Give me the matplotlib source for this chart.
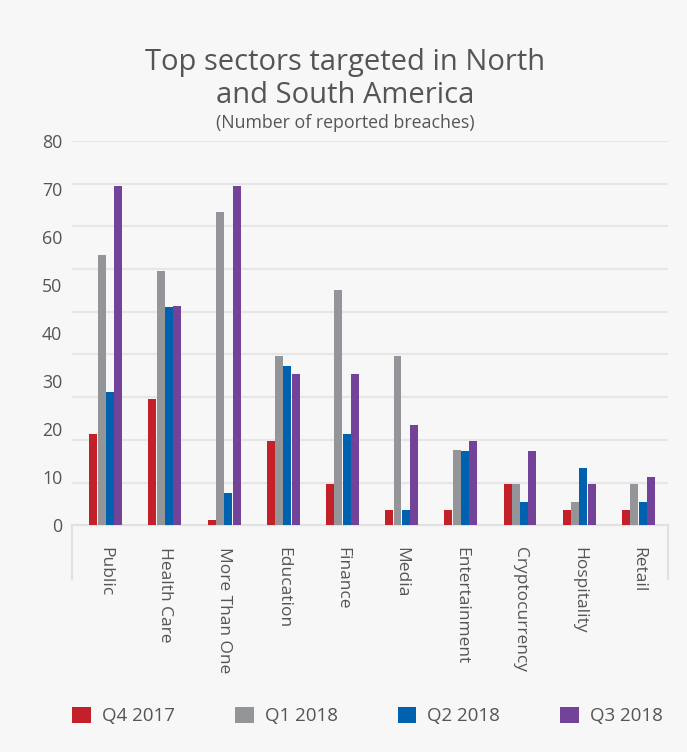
import numpy as np
import matplotlib
matplotlib.use("Agg")
import matplotlib.pyplot as plt
from matplotlib.patches import Patch

plt.rcParams['font.family'] = ['Open Sans', 'DejaVu Sans']

sectors = ['Public', 'Health Care', 'More Than One', 'Education', 'Finance',
           'Media', 'Entertainment', 'Cryptocurrency', 'Hospitality', 'Retail']
quarters = ['Q4 2017', 'Q1 2018', 'Q2 2018', 'Q3 2018']
q4_2017 = [19.0, 26.3, 1.2, 17.6, 8.6, 3.2, 3.2, 8.6, 3.2, 3.2]
q1_2018 = [56.3, 53.0, 65.3, 35.3, 49.0, 35.3, 15.7, 8.6, 4.9, 8.6]
q2_2018 = [27.8, 45.5, 6.7, 33.2, 19.0, 3.2, 15.5, 4.9, 12.0, 4.9]
q3_2018 = [70.7, 45.7, 70.7, 31.5, 31.5, 20.9, 17.5, 15.5, 8.6, 10.1]
colors = ['#c4202a', '#939598', '#0061ae', '#724399']

bg = '#f7f7f7'
grid_col = '#e6e6e6'
text_col = '#555555'

fig = plt.figure(figsize=(6.87, 7.52), dpi=100, facecolor=bg)
ax = fig.add_axes([0.1048, 0.3015, 0.8675, 0.511])
ax.set_facecolor(bg)

x = np.arange(len(sectors))
step = 0.14
w = 0.135
for i, (vals, c) in enumerate(zip([q4_2017, q1_2018, q2_2018, q3_2018], colors)):
    ax.bar(x + (i - 1.5) * step, vals, width=w, color=c, zorder=3)

ax.set_xlim(-0.57, 9.5)
ax.set_ylim(0, 80)

# background rules are spaced independently of the value labels
for g in np.arange(1, 10) * 80 / 9:
    ax.axhline(g, color=grid_col, lw=1.6, zorder=1)

ax.set_yticks(np.arange(0, 81, 10))
ax.set_yticklabels([str(v) for v in range(0, 81, 10)], fontsize=12.8, color=text_col)
ax.set_xticks(x)
ax.set_xticklabels(sectors, rotation=-90, fontsize=12.5, color=text_col,
                   va='top', ha='center')
ax.tick_params(axis='both', length=0)
ax.tick_params(axis='x', pad=16)
ax.tick_params(axis='y', pad=7)
for s in ax.spines.values():
    s.set_visible(False)

# open box under the category axis
ax.plot([0, 1], [0, 0], transform=ax.transAxes, color='#e2e2e2', lw=1.6,
        clip_on=False, zorder=2)
ax.plot([0, 0], [0, -0.14], transform=ax.transAxes, color='#e2e2e2', lw=1.6,
        clip_on=False)
ax.plot([1, 1], [0, -0.14], transform=ax.transAxes, color='#e2e2e2', lw=1.6,
        clip_on=False)

fig.text(0.503, 0.9069, 'Top sectors targeted in North', ha='center', va='baseline',
         fontsize=21, color=text_col)
fig.text(0.503, 0.863, 'and South America', ha='center', va='baseline',
         fontsize=21, color=text_col)
fig.text(0.503, 0.8294, '(Number of reported breaches)', ha='center', va='baseline',
         fontsize=12.8, color=text_col)

handles = [Patch(facecolor=c, edgecolor='none') for c in colors]
leg = fig.legend(handles, quarters, loc='center left', bbox_to_anchor=(0.1048, 0.0479),
                 ncol=4, frameon=False, fontsize=13.5, handlelength=1.0,
                 handleheight=1.0, handletextpad=0.59, columnspacing=3.2,
                 borderpad=0, borderaxespad=0)
for t in leg.get_texts():
    t.set_color(text_col)

fig.savefig('out.png', dpi=100, facecolor=bg)
